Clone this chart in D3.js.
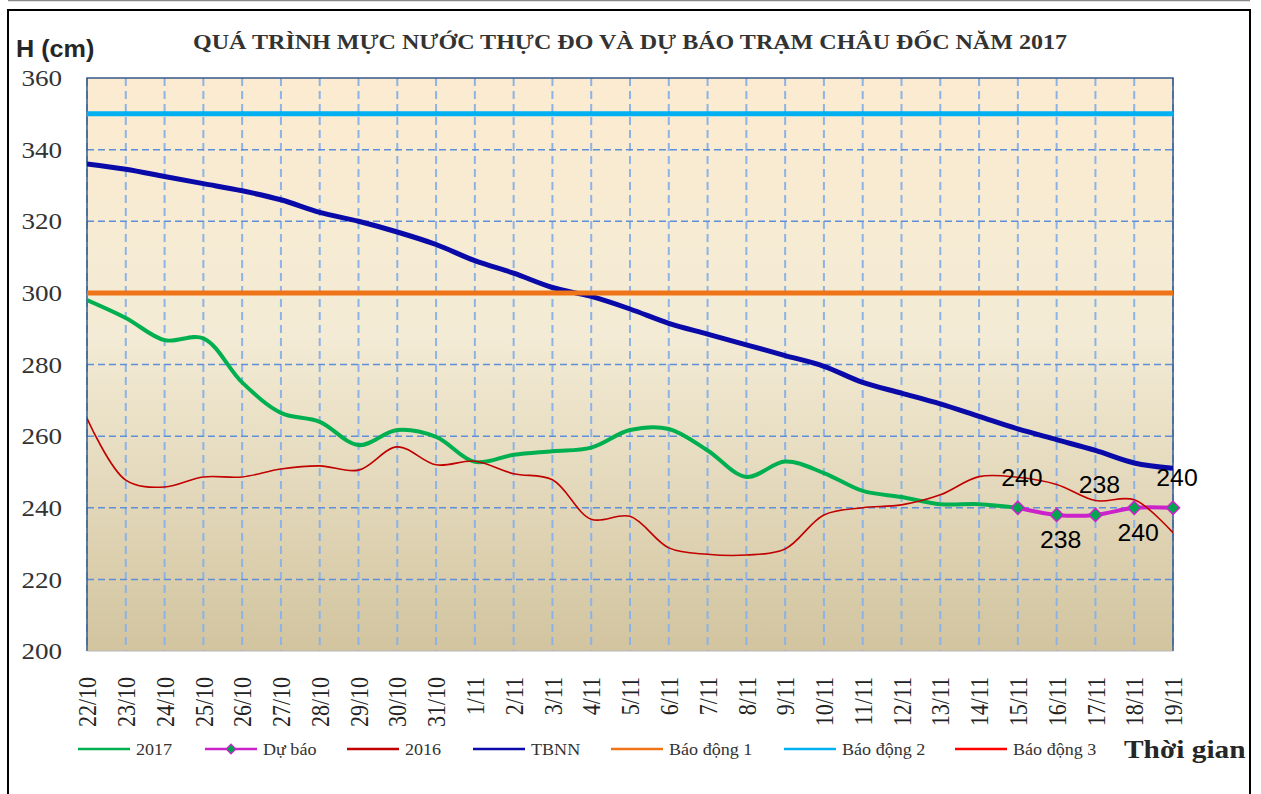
<!DOCTYPE html>
<html>
<head>
<meta charset="utf-8">
<script src="https://cdn.jsdelivr.net/npm/d3@7"></script>
<style>
  html, body { margin: 0; padding: 0; background: #fff; }
  svg { display: block; }
</style>
</head>
<body>
<div id="chart"></div>
<script>
// ngày quan trắc
const categories = ["22/10", "23/10", "24/10", "25/10", "26/10", "27/10", "28/10", "29/10", "30/10", "31/10",
  "1/11", "2/11", "3/11", "4/11", "5/11", "6/11", "7/11", "8/11", "9/11", "10/11",
  "11/11", "12/11", "13/11", "14/11", "15/11", "16/11", "17/11", "18/11", "19/11"];

const yTicks = [200, 220, 240, 260, 280, 300, 320, 340, 360];

// mực nước (cm)
const h2017 = [298, 293, 286.8, 287.3, 275, 266.5, 264, 257.5, 261.7, 259.8,
  252.8, 254.8, 255.8, 256.8, 261.7, 262, 256, 248.6, 252.9, 249.7,
  244.7, 243, 241, 241, 240, null, null, null, null];

const hForecast = [null, null, null, null, null, null, null, null, null, null,
  null, null, null, null, null, null, null, null, null, null,
  null, null, null, null, 240, 238, 238, 240, 240];
const forecastLabelSide = ["above", "below", "above", "below", "above"];

const h2016 = [265, 247.7, 245.8, 248.6, 248.6, 250.8, 251.7, 250.5, 257, 252,
  253, 249.5, 247.8, 236.8, 237.6, 228.8, 227, 226.8, 228.5, 238,
  240, 240.8, 243.6, 248.7, 248.5, 246.5, 242, 242.2, 233];

const tbnn = [336, 334.5, 332.5, 330.5, 328.5, 326, 322.5, 320, 317, 313.5,
  309, 305.5, 301.5, 299, 295.5, 291.5, 288.5, 285.5, 282.5, 279.5,
  275, 272, 269, 265.5, 262, 259, 256, 252.5, 251];

const alarm1 = 300, alarm2 = 350, alarm3 = 400;

const legendNames = ["2017", "Dự báo", "2016", "TBNN", "Báo động 1", "Báo động 2", "Báo động 3"];
const legendColors = ["#00b050", "#cc22cc", "#c00000", "#0a0aa8", "#ee7417", "#00b0f0", "#ff0000"];

// ====== layout ======
const W = 1261, H = 794;
const SX = 1.13; // hình gốc bị kéo giãn ngang
const serif = "'Liberation Serif', 'Times New Roman', serif";
const sans = "'Liberation Sans', Arial, sans-serif";

const svg = d3.select("#chart").append("svg")
  .attr("width", W).attr("height", H);

// khung ngoài
svg.append("line").attr("x1", 8).attr("x2", 1250).attr("y1", 0.5).attr("y2", 0.5)
  .attr("stroke", "#8a8a8a").attr("stroke-width", 1.5);
svg.append("rect").attr("x", 8).attr("y", 10).attr("width", 1242).attr("height", 800)
  .attr("fill", "#fff").attr("stroke", "#000").attr("stroke-width", 2);

const x = d3.scalePoint().domain(categories).range([87, 1173]);
const y = d3.scaleLinear().domain([200, 360]).range([651, 78]);

// nền gradient
const grad = svg.append("defs").append("linearGradient")
  .attr("id", "bg").attr("x1", 0).attr("x2", 0).attr("y1", 0).attr("y2", 1);
grad.append("stop").attr("offset", "0%").attr("stop-color", "#fcebd0");
grad.append("stop").attr("offset", "45%").attr("stop-color", "#f3ebd5");
grad.append("stop").attr("offset", "100%").attr("stop-color", "#d2c49f");

svg.append("clipPath").attr("id", "plotclip").append("rect")
  .attr("x", 87).attr("y", 78).attr("width", 1086).attr("height", 573);

svg.append("rect")
  .attr("x", 87).attr("y", 78).attr("width", 1086).attr("height", 573)
  .attr("fill", "url(#bg)");

// lưới dọc
svg.append("g").selectAll("line")
  .data(categories)
  .enter().append("line")
  .attr("x1", d => x(d)).attr("x2", d => x(d))
  .attr("y1", 78).attr("y2", 651)
  .attr("stroke", "#8db3e6").attr("stroke-width", 2)
  .attr("stroke-dasharray", "8,5");

// lưới ngang
svg.append("g").selectAll("line")
  .data(yTicks.slice(1, -1))
  .enter().append("line")
  .attr("x1", 87).attr("x2", 1173)
  .attr("y1", d => y(d)).attr("y2", d => y(d))
  .attr("stroke", "#5f8fd6").attr("stroke-width", 1.5)
  .attr("stroke-dasharray", "7,4");

// viền vùng vẽ
svg.append("path")
  .attr("d", `M87,651V78H1173V651`)
  .attr("fill", "none").attr("stroke", "#345a8a").attr("stroke-width", 1.5);
svg.append("line").attr("x1", 87).attr("x2", 1173).attr("y1", 651).attr("y2", 651)
  .attr("stroke", "#b8b8b8").attr("stroke-width", 1);

// ====== series ======
const plot = svg.append("g").attr("clip-path", "url(#plotclip)");

const lineGen = d3.line()
  .defined(d => d[1] != null)
  .x(d => x(d[0]))
  .y(d => y(d[1]))
  .curve(d3.curveCatmullRom.alpha(0.5));

const pairs = arr => categories.map((c, i) => [c, arr[i]]);

plot.append("path").datum(pairs(h2017))
  .attr("d", lineGen).attr("fill", "none")
  .attr("stroke", legendColors[0]).attr("stroke-width", 4);

plot.append("path").datum(pairs(hForecast))
  .attr("d", lineGen).attr("fill", "none")
  .attr("stroke", legendColors[1]).attr("stroke-width", 4);

const diamond = d3.symbol().type(d3.symbolDiamond2).size(110);
const fcPts = pairs(hForecast).filter(d => d[1] != null);

svg.append("g").selectAll("path")
  .data(fcPts)
  .enter().append("path")
  .attr("d", diamond)
  .attr("transform", d => `translate(${x(d[0])},${y(d[1])})`)
  .attr("fill", "#00a550").attr("stroke", legendColors[1]).attr("stroke-width", 1.5);

plot.append("path").datum(pairs(h2016))
  .attr("d", lineGen).attr("fill", "none")
  .attr("stroke", legendColors[2]).attr("stroke-width", 1.6);

plot.append("path").datum(pairs(tbnn))
  .attr("d", lineGen).attr("fill", "none")
  .attr("stroke", legendColors[3]).attr("stroke-width", 5);

[alarm1, alarm2, alarm3].forEach((v, i) => {
  plot.append("line")
    .attr("x1", 87).attr("x2", 1173)
    .attr("y1", y(v)).attr("y2", y(v))
    .attr("stroke", legendColors[4 + i]).attr("stroke-width", 5);
});

// nhãn dự báo
svg.append("g").selectAll("text")
  .data(fcPts)
  .enter().append("text")
  .attr("transform", (d, i) => {
    const ty = forecastLabelSide[i] === "above" ? y(d[1]) - 22 : y(d[1]) + 33;
    return `translate(${x(d[0]) + 4},${ty}) scale(1.08,1)`;
  })
  .attr("text-anchor", "middle")
  .style("font-family", sans).style("font-size", "23px")
  .attr("fill", "#000")
  .text(d => d[1]);

// ====== trục ======
const yAxis = svg.append("g")
  .attr("transform", "translate(87,0)")
  .call(d3.axisLeft(y).tickValues(yTicks).tickSize(0).tickPadding(22));
yAxis.select(".domain").remove();
yAxis.attr("font-family", null).attr("font-size", null);
yAxis.selectAll("text")
  .style("font-family", serif).style("font-size", "24px").attr("fill", "#333")
  .attr("transform", `scale(${SX},1)`);

const xAxis = svg.append("g")
  .attr("transform", "translate(0,651)")
  .call(d3.axisBottom(x).tickSize(0));
xAxis.select(".domain").remove();
xAxis.attr("font-family", null).attr("font-size", null);
xAxis.selectAll("text")
  .attr("y", null).attr("x", 0).attr("dy", "0.35em")
  .attr("text-anchor", "end")
  .attr("transform", `translate(0,26) scale(${SX},1) rotate(-90)`)
  .style("font-family", serif).style("font-size", "22px").attr("fill", "#222");

// tiêu đề
svg.append("text")
  .attr("x", 193).attr("y", 49)
  .attr("textLength", 874).attr("lengthAdjust", "spacingAndGlyphs")
  .style("font-family", serif).style("font-weight", "bold").style("font-size", "22px")
  .attr("fill", "#333")
  .text("QUÁ TRÌNH MỰC NƯỚC THỰC ĐO VÀ DỰ BÁO TRẠM CHÂU ĐỐC  NĂM 2017");

svg.append("text")
  .attr("transform", "translate(16,57) scale(1.05,1)")
  .style("font-family", sans).style("font-weight", "bold").style("font-size", "24px")
  .attr("fill", "#262626")
  .text("H (cm)");

svg.append("text")
  .attr("transform", `translate(1124,758) scale(${SX},1)`)
  .style("font-family", serif).style("font-weight", "bold").style("font-size", "26px")
  .attr("fill", "#262626")
  .text("Thời gian");

// ====== chú giải ======
const legendX = [78, 205, 347, 473, 611, 784, 955];
const legend = svg.append("g").selectAll("g")
  .data(legendNames)
  .enter().append("g")
  .attr("transform", (d, i) => `translate(${legendX[i]},749)`);

legend.append("line")
  .attr("x1", 0).attr("x2", 52).attr("y1", 0).attr("y2", 0)
  .attr("stroke", (d, i) => legendColors[i]).attr("stroke-width", 2.5);

legend.filter((d, i) => i === 1).append("path")
  .attr("d", d3.symbol().type(d3.symbolDiamond2).size(60))
  .attr("transform", "translate(26,0)")
  .attr("fill", "#00a550").attr("stroke", legendColors[1]).attr("stroke-width", 1.2);

legend.append("text")
  .attr("transform", `translate(58,6) scale(${SX},1)`)
  .style("font-family", serif).style("font-size", "16px").attr("fill", "#333")
  .text(d => d);
</script>
</body>
</html>
